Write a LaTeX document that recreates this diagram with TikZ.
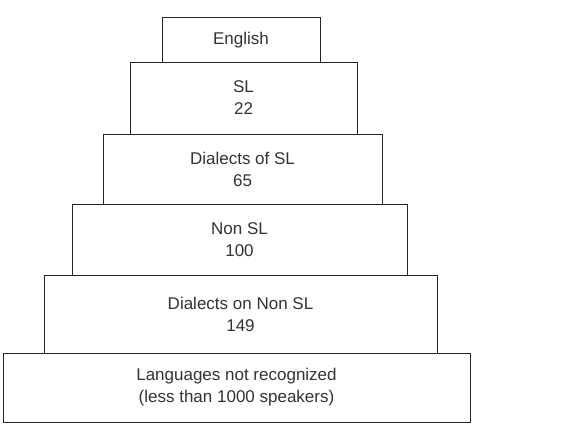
\documentclass[tikz,border=0pt]{standalone}
\usepackage{fontspec}
\setmainfont{Liberation Sans}
\begin{document}
\begin{tikzpicture}[x=1pt,y=-1pt,
  tier/.style={draw=black!85, line width=1pt, fill=white, rectangle, inner sep=0pt,
    align=center, text=black!80, font=\fontsize{17}{22}\selectfont}]
\useasboundingbox (0,0) rectangle (577,424);
\fill[white] (0,0) rectangle (577,424);
\node[tier, minimum width=158pt, minimum height=45pt] (en) at (241,40) {English};
\node[tier, minimum width=227pt, minimum height=72pt] (sl) at (243.5,98) {SL\\22};
\node[tier, minimum width=279pt, minimum height=70pt] (dsl) at (242.5,169) {Dialects of SL\\65};
\node[tier, minimum width=335pt, minimum height=71pt] (nsl) at (239.5,239.5) {Non SL\\100};
\node[tier, minimum width=393pt, minimum height=78pt] (dnsl) at (240.5,314) {Dialects on Non SL\\149};
\node[tier, minimum width=467pt, minimum height=69pt] (nr) at (236.5,387.5) {Languages not recognized\\(less than 1000 speakers)};
\end{tikzpicture}
\end{document}
